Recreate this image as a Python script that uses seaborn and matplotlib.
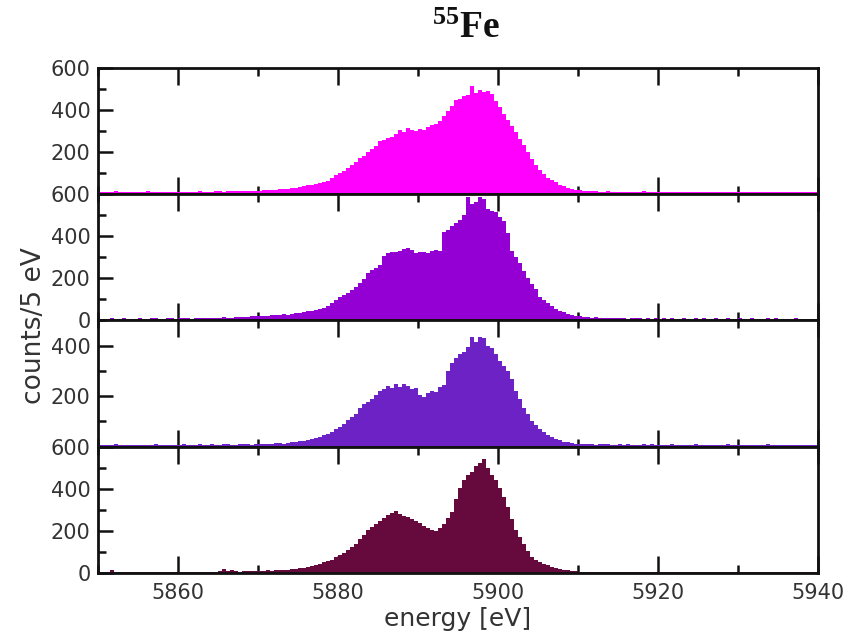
import numpy as np
import pandas as pd
import seaborn as sns
import matplotlib.pyplot as plt
from matplotlib.ticker import MultipleLocator

# Energy binning of the spectra (eV)
E_MIN, E_MAX, BIN_WIDTH = 5850.0, 5940.0, 0.5

# Counts per 0.5 eV bin, 5850 -> 5940 eV, one list per spectrum (top to bottom)
counts_a = [
    9, 11, 10, 8, 12, 10, 9, 11, 10, 8, 9, 10, 12, 9, 8, 11, 10, 9, 10, 11,
    9, 10, 8, 11, 10, 12, 9, 11, 10, 12, 13, 11, 12, 14, 13, 12, 15, 14, 13, 16,
    15, 17, 18, 17, 20, 22, 21, 24, 27, 29,
    33, 36, 40, 44, 48, 53, 58, 63, 75, 88,
    97, 108, 122, 138, 150, 168, 182, 200, 214, 228,
    250, 256, 266, 272, 283, 305, 296, 312, 301, 298,
    306, 303, 318, 326, 330, 344, 368, 392, 418, 448,
    452, 466, 470, 510, 478, 494, 482, 488, 476, 440,
    412, 380, 352, 320, 292, 262, 230, 198, 165, 138,
    112, 92, 76, 64, 54, 44, 36, 30, 25, 20,
    17, 15, 14, 12, 13, 11, 10, 12, 9, 11,
    10, 9, 11, 8, 10, 9, 12, 10, 9, 8,
    10, 9, 11, 8, 9, 10, 8, 11, 9, 10, 8, 9, 10, 11, 9, 8, 10, 9, 8, 10,
    9, 10, 8, 9, 11, 10, 9, 8, 10, 9, 8, 10, 9, 11, 9, 10, 8, 9, 10, 9,
]

counts_b = [
    7, 8, 6, 9, 7, 8, 10, 7, 6, 8, 9, 7, 8, 10, 9, 7, 8, 9, 11, 8,
    10, 9, 11, 8, 10, 12, 9, 11, 13, 10, 12, 14, 11, 13, 15, 14, 16, 15, 18, 20,
    19, 22, 21, 24, 23, 26, 28, 27, 31, 33,
    36, 38, 42, 45, 50, 55, 60, 66, 80, 95,
    110, 118, 128, 142, 156, 175, 198, 222, 238, 250,
    262, 305, 318, 326, 322, 330, 338, 344, 335, 318,
    322, 326, 320, 328, 334, 330, 418, 430, 446, 462,
    476, 500, 586, 550, 560, 584, 576, 530, 520, 512,
    490, 470, 412, 330, 300, 272, 236, 200, 170, 150,
    112, 96, 80, 68, 55, 46, 38, 32, 26, 22,
    20, 17, 15, 13, 14, 12, 11, 10, 12, 9,
    11, 10, 8, 9, 12, 10, 8, 9, 7, 10,
    8, 9, 7, 10, 8, 6, 9, 8, 7, 10, 8, 9, 7, 8, 10, 7, 6, 9, 8, 7,
    9, 8, 7, 10, 8, 6, 7, 9, 8, 10, 7, 6, 8, 7, 9, 6, 7, 8, 6, 7,
]

counts_c = [
    6, 8, 5, 7, 9, 6, 7, 8, 5, 7, 6, 8, 7, 5, 9, 6, 8, 7, 6, 8,
    7, 9, 6, 8, 7, 10, 8, 6, 9, 7, 8, 10, 9, 7, 8, 10, 9, 11, 8, 10,
    9, 11, 12, 10, 13, 14, 12, 15, 17, 19,
    22, 24, 27, 29, 33, 38, 44, 50, 58, 68,
    76, 90, 104, 116, 130, 152, 170, 178, 190, 204,
    222, 226, 240, 230, 248, 236, 246, 238, 228, 230,
    206, 198, 214, 222, 218, 236, 244, 300, 330, 352,
    368, 376, 394, 432, 412, 432, 428, 400, 390, 366,
    340, 320, 300, 268, 220, 190, 153, 130, 100, 86,
    68, 58, 46, 38, 30, 26, 20, 17, 14, 12,
    11, 10, 12, 9, 8, 10, 9, 11, 8, 7,
    9, 8, 10, 7, 6, 8, 9, 7, 10, 8,
    7, 6, 8, 9, 7, 5, 8, 6, 7, 9, 6, 8, 7, 5, 7, 8, 6, 9, 7, 6,
    8, 6, 7, 5, 8, 7, 6, 9, 7, 6, 8, 5, 7, 6, 8, 7, 5, 6, 8, 6,
]

counts_d = [
    5, 6, 5, 12, 6, 5, 6, 5, 5, 6, 5, 6, 5, 5, 6, 5, 6, 5, 5, 6,
    6, 5, 7, 6, 5, 6, 5, 7, 6, 6, 8, 18, 10, 15, 9, 7, 8, 9, 8, 10,
    9, 11, 12, 10, 13, 14, 16, 15, 18, 20,
    24, 26, 30, 33, 38, 44, 50, 56, 64, 74,
    84, 96, 110, 124, 139, 160, 182, 202, 218, 234,
    248, 262, 275, 285, 292, 278, 272, 266, 258, 248,
    236, 224, 214, 204, 200, 212, 232, 262, 290, 350,
    405, 440, 467, 480, 506, 520, 540, 500, 467, 440,
    405, 360, 311, 255, 202, 170, 139, 105, 78, 64,
    53, 44, 36, 30, 25, 20, 15, 12, 10, 8,
    7, 6, 7, 5, 6, 5, 6, 5, 5, 6,
    5, 6, 5, 5, 6, 5, 5, 6, 5, 5,
    6, 5, 5, 6, 5, 5, 6, 5, 6, 5, 5, 6, 5, 5, 6, 5, 5, 6, 5, 5,
    6, 5, 5, 6, 5, 5, 6, 5, 5, 6, 5, 5, 6, 5, 5, 6, 5, 5, 6, 5,
]

spectra = [counts_a, counts_b, counts_c, counts_d]
fill_colors = ["#ff00ff", "#9400d3", "#6c22c4", "#660a3e"]
y_tops = [600, 600, 500, 600]
y_major_ticks = [[200, 400, 600], [0, 200, 400, 600], [200, 400], [0, 200, 400, 600]]
x_ticks = [5860, 5880, 5900, 5920, 5940]

title_text = r"$^{55}$Fe"
x_label = "energy [eV]"
y_label = "counts/5 eV"

sns.set_theme(style="ticks")
plt.rcParams.update({
    "font.family": ["DejaVu Sans"],
    "axes.edgecolor": "#111111",
    "axes.linewidth": 2.0,
    "xtick.color": "#111111",
    "ytick.color": "#111111",
    "xtick.labelcolor": "#333333",
    "ytick.labelcolor": "#333333",
    "mathtext.fontset": "custom",
    "mathtext.rm": "Liberation Serif:bold",
    "mathtext.bf": "Liberation Serif:bold",
    "mathtext.it": "Liberation Serif:bold",
})

edges = np.arange(E_MIN, E_MAX + BIN_WIDTH / 2, BIN_WIDTH)
centers = 0.5 * (edges[:-1] + edges[1:])
bin_edges = [float(e) for e in edges]

fig, axes = plt.subplots(4, 1, figsize=(8.48, 6.38), dpi=100, sharex=True,
                         gridspec_kw=dict(hspace=0))
fig.subplots_adjust(left=0.1152, right=0.9643, bottom=0.1019, top=0.8942)

for ax, counts, color, ytop, yt in zip(axes, spectra, fill_colors, y_tops, y_major_ticks):
    df = pd.DataFrame({"energy": centers, "counts": counts})
    # Filled step histogram of the spectrum
    sns.histplot(data=df, x="energy", weights="counts", bins=bin_edges,
                 element="step", fill=True, color=color, alpha=1.0,
                 linewidth=0, ax=ax)
    ax.set_xlim(E_MIN, E_MAX)
    ax.set_ylim(0, ytop)
    ax.set_yticks(yt)
    ax.yaxis.set_minor_locator(MultipleLocator(100))
    ax.set_xticks(x_ticks)
    ax.xaxis.set_minor_locator(MultipleLocator(10))
    ax.tick_params(axis="x", which="both", direction="in", top=True, bottom=True,
                   width=1.8, pad=7, labelsize=15)
    ax.tick_params(axis="x", which="major", length=12)
    ax.tick_params(axis="x", which="minor", length=6)
    ax.tick_params(axis="y", which="both", direction="in", left=True, right=False,
                   width=1.8, pad=5, labelsize=15)
    ax.tick_params(axis="y", which="major", length=11)
    ax.tick_params(axis="y", which="minor", length=6)
    ax.set_ylabel("")
    ax.set_xlabel("")
    for side in ax.spines.values():
        side.set_linewidth(2.0)
        side.set_zorder(5)

axes[-1].set_xlabel(x_label, fontsize=18, color="#333333", labelpad=3)
fig.text(0.040, 0.49, y_label, rotation=90, fontsize=19, color="#333333",
         ha="center", va="center")
fig.text(0.550, 0.955, title_text, fontsize=27, fontweight="bold",
         fontfamily="Liberation Serif", ha="center", va="center", color="#111111")

fig.savefig("out.png", dpi=100, facecolor="white")
